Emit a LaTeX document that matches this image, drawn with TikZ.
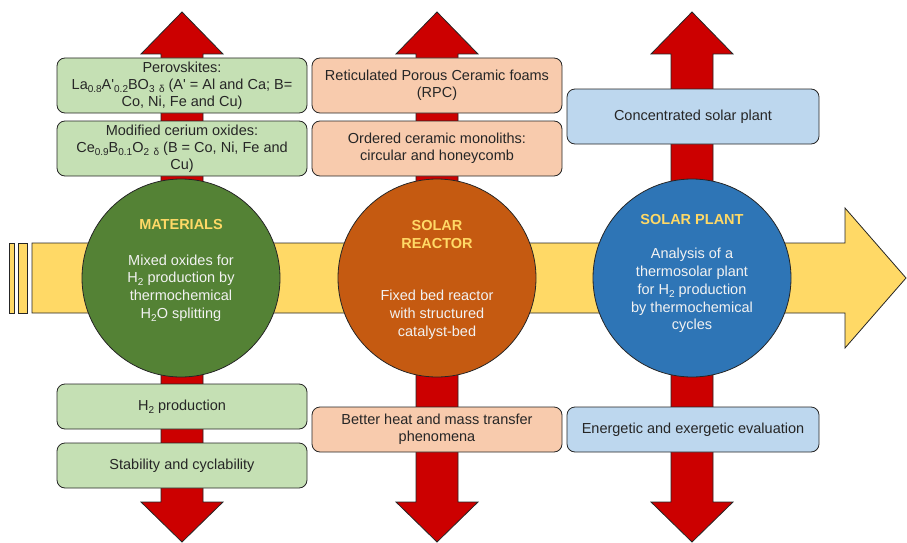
\documentclass[tikz,border=0pt]{standalone}
\usepackage{fontspec}
\setmainfont{Liberation Sans}
\definecolor{ybar}{HTML}{FFD966}
\definecolor{rbar}{HTML}{CC0000}
\definecolor{gcirc}{HTML}{548235}
\definecolor{ocirc}{HTML}{C55A11}
\definecolor{bcirc}{HTML}{2E75B6}
\definecolor{gbox}{HTML}{C5E0B4}
\definecolor{obox}{HTML}{F8CBAD}
\definecolor{bbox}{HTML}{BDD7EE}
\definecolor{edge}{HTML}{262626}
\definecolor{ctxt}{HTML}{F2F2F2}
\newcommand{\sbs}[1]{\raisebox{-0.4ex}{\fontsize{10}{10}\selectfont #1}}
\begin{document}
\begin{tikzpicture}[x=1pt,y=-1pt,
  shapeline/.style={draw=edge,line width=0.8pt,line join=miter},
  bigcirc/.style={circle,draw=edge,line width=0.8pt,minimum size=198pt,inner sep=0pt},
  infobox/.style={rectangle,rounded corners=8pt,draw=edge,line width=0.8pt,minimum width=250pt,minimum height=55pt,align=center,inner sep=2pt,text=black!85,font=\fontsize{14.5}{17}\selectfont},
  lowbox/.style={infobox,minimum height=45pt},
  ctitle/.style={align=center,text=ybar,font=\fontsize{14.5}{17.5}\selectfont\bfseries},
  cbody/.style={align=center,text=ctxt,font=\fontsize{14.5}{17.8}\selectfont}]
\useasboundingbox (0,0) rectangle (907,543);
% yellow arrow
\draw[shapeline,fill=ybar] (32,243) -- (845,243) -- (845,208) -- (906,278) -- (845,348) -- (845,313) -- (32,313) -- cycle;
\draw[shapeline,fill=ybar] (9,243) rectangle (14,313);
\draw[shapeline,fill=ybar] (18,243) rectangle (27,313);
% red double arrows
\foreach \cx in {182,437,692}{
  \draw[shapeline,fill=rbar] (\cx,12) -- (\cx+41,54) -- (\cx+21,54) -- (\cx+21,502) -- (\cx+41,502) -- (\cx,542) -- (\cx-41,502) -- (\cx-21,502) -- (\cx-21,54) -- (\cx-41,54) -- cycle;
}
% circles
\node[bigcirc,fill=gcirc] (mat) at (181,278) {};
\node[bigcirc,fill=ocirc] (reac) at (437,278) {};
\node[bigcirc,fill=bcirc] (plant) at (692,278) {};
\node[ctitle] (matT) at (181,225) {MATERIALS};
\node[cbody] (matB) at (181,288) {Mixed oxides for\\H\sbs{2} production by\\thermochemical\\H\sbs{2}O splitting};
\node[ctitle] (reacT) at (437,234.5) {SOLAR\\REACTOR};
\node[cbody] (reacB) at (437,314.5) {Fixed bed reactor\\with structured\\catalyst-bed};
\node[ctitle] (plantT) at (692,220) {SOLAR PLANT};
\node[cbody] (plantB) at (692,290.5) {Analysis of a\\thermosolar plant\\for H\sbs{2} production\\by thermochemical\\cycles};
% boxes
\node[infobox,fill=gbox] (g1) at (182,85.5) {Perovskites:\\La\sbs{0.8}A\textquotesingle\sbs{0.2}BO\sbs{3 \,δ} (A\textquotesingle{} = Al and Ca; B=\\Co, Ni, Fe and Cu)};
\node[infobox,fill=gbox] (g2) at (182,148.5) {Modified cerium oxides:\\Ce\sbs{0.9}B\sbs{0.1}O\sbs{2 \,δ} (B = Co, Ni, Fe and\\Cu)};
\node[lowbox,fill=gbox] (g3) at (182,406.5) {H\sbs{2} production};
\node[lowbox,fill=gbox] (g4) at (182,465.5) {Stability and cyclability};
\node[infobox,fill=obox] (o1) at (437,85.5) {Reticulated Porous Ceramic foams\\(RPC)};
\node[infobox,fill=obox] (o2) at (437,148.5) {Ordered ceramic monoliths:\\circular and honeycomb};
\node[lowbox,fill=obox] (o3) at (437,429.5) {Better heat and mass transfer\\phenomena};
\node[infobox,fill=bbox,minimum width=252pt] (b1) at (693,116.5) {Concentrated solar plant};
\node[lowbox,fill=bbox,minimum width=252pt] (b2) at (693,429.5) {Energetic and exergetic evaluation};
\end{tikzpicture}
\end{document}
